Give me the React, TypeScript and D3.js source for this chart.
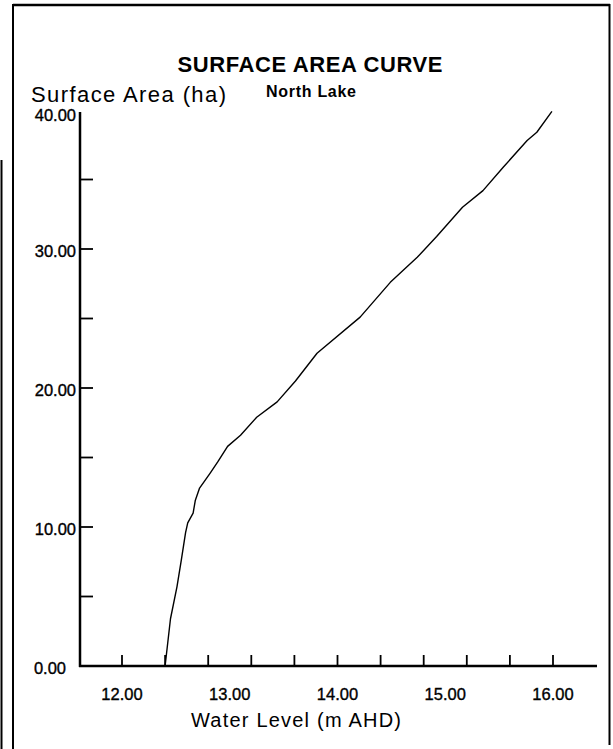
import React from "react";
import * as d3 from "d3";

// Surface area vs. water level, North Lake
const waterLevels = [
  12.40, 12.45, 12.51, 12.55, 12.59, 12.61, 12.66, 12.68, 12.72, 12.82, 12.89,
  12.98, 13.10, 13.25, 13.44, 13.61, 13.81, 14.21, 14.49, 14.74, 14.92, 15.16,
  15.35, 15.54, 15.76, 15.85, 15.99,
];
const surfaceAreas = [
  0.0, 3.4, 5.7, 7.6, 9.6, 10.3, 11.0, 11.9, 12.8, 13.9, 14.7,
  15.8, 16.6, 17.9, 19.0, 20.5, 22.5, 25.1, 27.6, 29.4, 30.9, 33.0,
  34.2, 35.9, 37.8, 38.4, 39.9,
];
const xLabelValues = [12, 13, 14, 15, 16];
const xTickValues = [12.0, 12.4, 12.8, 13.2, 13.6, 14.0, 14.4, 14.8, 15.2, 15.6, 16.0];
const yLabelValues = [0, 10, 20, 30, 40];
const yTickValues = [5, 10, 15, 20, 25, 30, 35];

const W = 613;
const H = 749;
const FONT = "'Liberation Sans', Arial, Helvetica, sans-serif";

export default function App() {
  const x = d3.scaleLinear().domain([12, 16]).range([122, 553]);
  const y = d3.scaleLinear().domain([0, 40]).range([666, 110]);
  const fmt = d3.format(".2f");

  const axisLeft = 80;
  const axisRight = 597;
  const axisTop = 112;
  const axisBottom = y(0);

  const points: [number, number][] = waterLevels.map((v, i) => [v, surfaceAreas[i]]);
  const line = d3
    .line<[number, number]>()
    .x((d) => x(d[0]))
    .y((d) => y(d[1]));

  const labelStyle = { stroke: "#000", strokeWidth: 0.35 };

  return (
    <svg
      width={W}
      height={H}
      viewBox={`0 0 ${W} ${H}`}
      style={{ position: "fixed", left: 0, top: 0, background: "#fff" }}
    >
      <rect x={0} y={0} width={W} height={H} fill="#fff" />

      {/* page frame */}
      <line x1={13} y1={5} x2={610} y2={5} stroke="#000" strokeWidth={2.5} />
      <line x1={13} y1={4} x2={13} y2={H} stroke="#000" strokeWidth={2} />
      <line x1={609.5} y1={4} x2={609.5} y2={745} stroke="#000" strokeWidth={2} />
      <line x1={1.5} y1={160} x2={1.5} y2={H} stroke="#000" strokeWidth={2} />

      {/* titles */}
      <text
        x={310}
        y={72}
        textAnchor="middle"
        fontFamily={FONT}
        fontWeight="bold"
        fontSize={22}
        textLength={265}
        lengthAdjust="spacing"
      >
        SURFACE AREA CURVE
      </text>
      <text x={31} y={102} fontFamily={FONT} fontSize={22} textLength={195} lengthAdjust="spacing">
        Surface Area (ha)
      </text>
      <text
        x={266}
        y={97}
        fontFamily={FONT}
        fontWeight="bold"
        fontSize={16}
        textLength={90}
        lengthAdjust="spacing"
      >
        North Lake
      </text>

      {/* axes */}
      <line x1={axisLeft} y1={axisTop} x2={axisLeft} y2={axisBottom + 1} stroke="#000" strokeWidth={2.5} />
      <line x1={axisLeft - 1} y1={axisBottom} x2={axisRight} y2={axisBottom} stroke="#000" strokeWidth={2.5} />

      {yTickValues.map((v) => (
        <line key={`yt${v}`} x1={axisLeft} y1={y(v)} x2={axisLeft + 13} y2={y(v)} stroke="#000" strokeWidth={1.8} />
      ))}
      {xTickValues.map((v) => (
        <line key={`xt${v}`} x1={x(v)} y1={axisBottom - 11} x2={x(v)} y2={axisBottom} stroke="#000" strokeWidth={1.8} />
      ))}

      {yLabelValues.map((v) => (
        <text
          key={`yl${v}`}
          x={v === 0 ? 66 : 76}
          y={y(v) + (v === 40 ? 5 : 2.5)}
          dy="0.35em"
          textAnchor="end"
          fontFamily={FONT}
          fontSize={16.5}
          style={labelStyle}
        >
          {fmt(v)}
        </text>
      ))}
      {xLabelValues.map((v) => (
        <text
          key={`xl${v}`}
          x={x(v)}
          y={700}
          textAnchor="middle"
          fontFamily={FONT}
          fontSize={16.5}
          style={labelStyle}
        >
          {fmt(v)}
        </text>
      ))}

      <text
        x={296}
        y={727}
        textAnchor="middle"
        fontFamily={FONT}
        fontSize={20}
        textLength={210}
        lengthAdjust="spacing"
      >
        Water Level (m AHD)
      </text>

      {/* surface area curve */}
      <path d={line(points) ?? ""} fill="none" stroke="#000" strokeWidth={1.4} strokeLinejoin="round" />
    </svg>
  );
}
